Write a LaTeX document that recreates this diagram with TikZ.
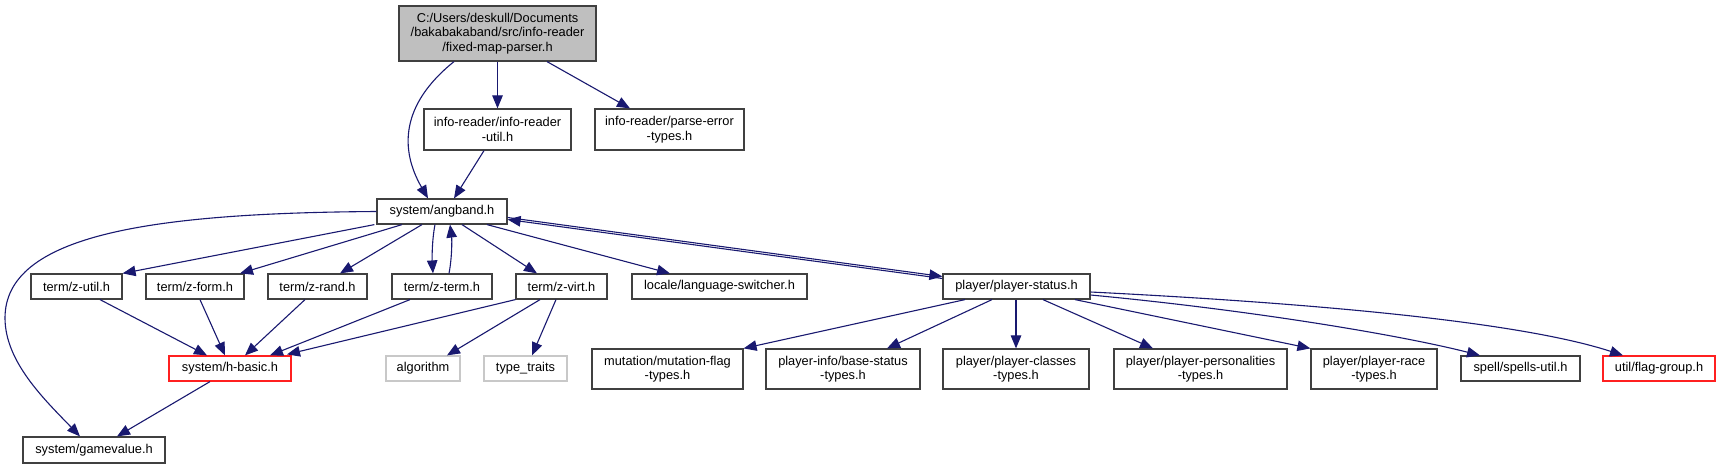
\documentclass[tikz,border=0pt]{standalone}
\usepackage{fontspec}
\setmainfont{Liberation Sans}
\usetikzlibrary{arrows.meta}
\definecolor{edgec}{HTML}{191970}
\definecolor{nodeb}{HTML}{404040}
\definecolor{topfill}{HTML}{BFBFBF}
\definecolor{redb}{HTML}{FF2020}
\definecolor{greyb}{HTML}{C8C8C8}
\begin{document}
\begin{tikzpicture}[x=1pt,y=-1pt,
 box/.style={draw=nodeb, line width=1.2pt, fill=white, inner sep=0pt, align=center,
   font=\fontsize{12.8}{14.5}\selectfont},
 wh/.style 2 args={minimum width=#1pt, minimum height=#2pt},
 redbox/.style={box, draw=redb},
 greybox/.style={box, draw=greyb},
 e/.style={draw=edgec, line width=1.1pt, -{Triangle[length=13pt,width=10.5pt]}},
]
\useasboundingbox[fill=white] (0,0) rectangle (1720,469);

% nodes
\node[box, wh={197}{55}, fill=topfill] (top) at (497.5,33.5) {C:/Users/deskull/Documents\\/bakabakaband/src/info-reader\\/fixed-map-parser.h};
\node[box, wh={147}{41}] (iru) at (497.5,129.5) {info-reader/info-reader\\-util.h};
\node[box, wh={149}{41}] (pet) at (669.5,129.5) {info-reader/parse-error\\-types.h};
\node[box, wh={130}{25}] (ang) at (442,211.5) {system/angband.h};

\node[box, wh={91}{25}] (zutil) at (76.5,286.5) {term/z-util.h};
\node[box, wh={98}{25}] (zform) at (195,286.5) {term/z-form.h};
\node[box, wh={99}{25}] (zrand) at (317.5,286.5) {term/z-rand.h};
\node[box, wh={100}{25}] (zterm) at (442,286.5) {term/z-term.h};
\node[box, wh={91}{25}] (zvirt) at (561.5,286.5) {term/z-virt.h};
\node[box, wh={175}{25}] (lang) at (719.5,286.5) {locale/language-switcher.h};
\node[box, wh={147}{25}] (pstat) at (1016.5,286.5) {player/player-status.h};

\node[redbox, wh={122}{25}] (hbasic) at (230,368.5) {system/h-basic.h};
\node[greybox, wh={74}{25}] (algo) at (423,368.5) {algorithm};
\node[greybox, wh={83}{25}] (tt) at (525.5,368.5) {type\_traits};
\node[box, wh={151}{40}] (mut) at (667.5,369) {mutation/mutation-flag\\-types.h};
\node[box, wh={154}{40}] (bstat) at (843,369) {player-info/base-status\\-types.h};
\node[box, wh={146}{40}] (cls) at (1016,369) {player/player-classes\\-types.h};
\node[box, wh={173}{40}] (pers) at (1200.5,369) {player/player-personalities\\-types.h};
\node[box, wh={126}{40}] (race) at (1374,369) {player/player-race\\-types.h};
\node[box, wh={119}{25}] (spells) at (1520.5,368.5) {spell/spells-util.h};
\node[redbox, wh={112}{25}] (flag) at (1659,368.5) {util/flag-group.h};
\node[box, wh={142}{26}] (gv) at (94,450) {system/gamevalue.h};

% edges from top
\draw[e] ([xshift=-43.5pt]top.south) .. controls (400,105) and (400,150) .. ([xshift=-14pt]ang.north);
\draw[e] (top.south) -- (iru.north);
\draw[e] ([xshift=49.5pt]top.south) -- ([xshift=-39.5pt]pet.north);
\draw[e] ([xshift=-13.5pt]iru.south) -- ([xshift=12pt]ang.north);

% edges from angband
\draw[e] (ang.west) .. controls (150,213) and (5,235) .. (5,318) .. controls (5,362) and (45,400) .. ([xshift=-14pt]gv.north);
\draw[e] ([xshift=-2pt]ang.south west) -- (zutil.north east);
\draw[e] ([xshift=-40pt]ang.south) -- ([xshift=45pt]zform.north);
\draw[e] ([xshift=-20pt]ang.south) -- ([xshift=22.5pt]zrand.north);
\draw[e] ([xshift=-7pt]ang.south) .. controls (432,240) and (432,258) .. ([xshift=-9pt]zterm.north);
\draw[e] ([xshift=7pt]zterm.north) .. controls (452,258) and (452,240) .. ([xshift=8pt]ang.south);
\draw[e] ([xshift=20pt]ang.south) -- ([xshift=-24.5pt]zvirt.north);
\draw[e] ([xshift=45pt]ang.south) -- ([xshift=-49.5pt]lang.north);
\draw[e] ([yshift=-6pt]ang.east) -- ([yshift=10pt]pstat.west);
\draw[e] ([yshift=8pt]pstat.west) -- ([yshift=-8pt]ang.east);

% edges to h-basic
\draw[e] ([xshift=23.5pt]zutil.south) -- ([xshift=-23pt]hbasic.north);
\draw[e] ([xshift=5pt]zform.south) -- ([xshift=-5pt]hbasic.north);
\draw[e] ([xshift=-12.5pt]zrand.south) -- ([xshift=15pt]hbasic.north);
\draw[e] ([xshift=-32pt]zterm.south) -- ([xshift=40pt]hbasic.north);
\draw[e] (zvirt.south west) -- ([xshift=57pt,yshift=1pt]hbasic.north);
\draw[e] ([xshift=-21.5pt]zvirt.south) -- ([xshift=24pt]algo.north);
\draw[e] ([xshift=-5.5pt]zvirt.south) -- ([xshift=6.5pt]tt.north);
\draw[e] ([xshift=-20pt]hbasic.south) -- ([xshift=23pt]gv.north);

% edges from player-status
\draw[e] ([xshift=-51.5pt]pstat.south) -- (mut.north east);
\draw[e] ([xshift=-24.5pt]pstat.south) -- ([xshift=44pt]bstat.north);
\draw[e] ([xshift=-0.5pt]pstat.south) -- (cls.north);
\draw[e] ([xshift=26.5pt]pstat.south) -- ([xshift=-47.5pt]pers.north);
\draw[e] ([xshift=58.5pt]pstat.south) -- (race.north west);
\draw[e] ([yshift=-8.5pt]pstat.east) .. controls (1250,310) and (1400,335) .. ([xshift=-40.5pt]spells.north);
\draw[e] ([yshift=-5.5pt]pstat.east) .. controls (1350,305) and (1530,325) .. ([xshift=-36pt]flag.north);
\end{tikzpicture}
\end{document}
